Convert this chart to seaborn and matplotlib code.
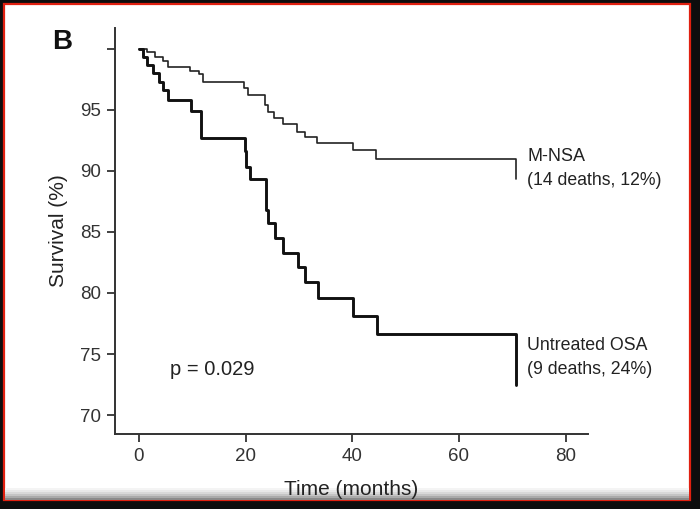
import matplotlib
matplotlib.use("Agg")
import matplotlib.pyplot as plt
import seaborn as sns
import pandas as pd
from matplotlib.patches import Rectangle

# ---- data (Kaplan-Meier step curves) ----
mnsa_time = [0, 1.5, 3.0, 4.5, 5.4, 9.6, 11.3, 12.0, 19.7, 20.5, 23.6, 24.2, 25.3,
             27.0, 29.6, 31.1, 33.4, 40.2, 44.5, 70.7, 70.7]
mnsa_surv = [100, 99.7, 99.3, 99.0, 98.5, 98.2, 97.9, 97.3, 96.8, 96.2, 95.4, 94.8, 94.3,
             93.8, 93.2, 92.8, 92.3, 91.7, 91.0, 91.0, 89.3]

osa_time = [0, 0.8, 1.5, 2.6, 3.7, 4.5, 5.5, 9.8, 11.6, 19.8, 20.1, 20.8, 23.8, 24.2,
            25.5, 27.0, 29.8, 31.1, 33.6, 40.2, 44.7, 70.7, 70.7]
osa_surv = [100, 99.3, 98.7, 98.0, 97.3, 96.6, 95.8, 94.9, 92.7, 91.6, 90.3, 89.3, 86.8, 85.7,
            84.5, 83.3, 82.1, 80.9, 79.6, 78.1, 76.6, 76.6, 72.5]

x_ticks = [0, 20, 40, 60, 80]
y_ticks = [70, 75, 80, 85, 90, 95, 100]
y_tick_labels = ["70", "75", "80", "85", "90", "95", ""]

sns.set_style("ticks")
plt.rcParams['font.family'] = ['Liberation Sans', 'DejaVu Sans']

W, H = 700, 509
fig = plt.figure(figsize=(W / 100, H / 100), dpi=100)
fig.patch.set_facecolor("#0d0d0d")

# white panel with red outline and bottom shadow
fig.add_artist(Rectangle((4 / W, 1 - 500 / H), 686 / W, 496 / H, transform=fig.transFigure,
                         facecolor="white", edgecolor="#e02010", linewidth=1.6, zorder=-2))
for i, c in enumerate(["#f4f4f4", "#e8e8e8", "#d8d8d8", "#c4c4c4", "#aaaaaa", "#8a8a8a"]):
    fig.add_artist(Rectangle((5 / W, 1 - (488 + 2 * i + 2) / H), 684 / W, 2 / H,
                             transform=fig.transFigure, facecolor=c, edgecolor="none", zorder=-1))

ax = fig.add_axes([115 / W, 75 / H, (588 - 115) / W, (434 - 28) / H])
ax.set_zorder(2)
ax.set_facecolor("none")

df_m = pd.DataFrame({"time": mnsa_time, "surv": mnsa_surv})
df_o = pd.DataFrame({"time": osa_time, "surv": osa_surv})
sns.lineplot(data=df_m, x="time", y="surv", ax=ax, estimator=None, sort=False,
             drawstyle="steps-post", color="#222222", linewidth=1.2)
sns.lineplot(data=df_o, x="time", y="surv", ax=ax, estimator=None, sort=False,
             drawstyle="steps-post", color="#111111", linewidth=2.1)

ax.set_xlim(-4.5, 84.2)
ax.set_ylim(68.45, 101.7)
ax.set_xticks(x_ticks)
ax.set_yticks(y_ticks)
ax.set_yticklabels(y_tick_labels)
sns.despine(ax=ax)
for s in ["left", "bottom"]:
    ax.spines[s].set_color("#333333")
    ax.spines[s].set_linewidth(1.4)
ax.tick_params(axis="both", direction="out", length=6, width=1.3, color="#333333",
               labelsize=13.5, labelcolor="#333333", pad=4)

ax.set_xlabel("Time (months)", fontsize=15, color="#222222", labelpad=11)
ax.set_ylabel("Survival (%)", fontsize=15, color="#222222", labelpad=9)

tc = "#222222"
ax.text(72.8, 91.2, "M-NSA", fontsize=13, color=tc, va="center", ha="left")
ax.text(72.8, 89.2, "(14 deaths, 12%)", fontsize=12.7, color=tc, va="center", ha="left")
ax.text(72.8, 75.7, "Untreated OSA", fontsize=12.8, color=tc, va="center", ha="left")
ax.text(72.8, 73.7, "(9 deaths, 24%)", fontsize=12.8, color=tc, va="center", ha="left")
ax.text(5.8, 73.7, "p = 0.029", fontsize=14.5, color=tc, va="center", ha="left")

fig.text(62 / W, 1 - 42 / H, "B", fontsize=20, fontweight="bold", color="#111111",
         ha="center", va="center")

fig.savefig("out.png", dpi=100, facecolor=fig.get_facecolor())
